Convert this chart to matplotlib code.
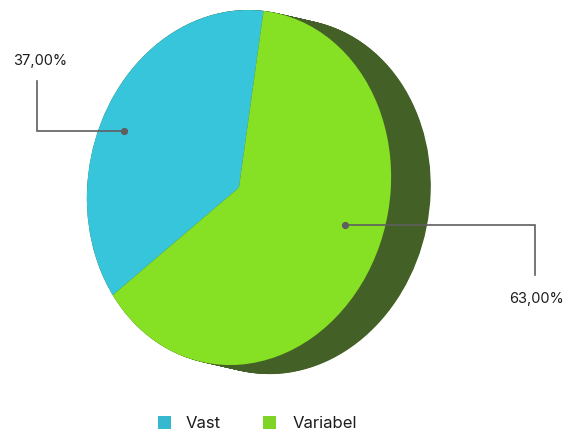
import matplotlib
matplotlib.use("Agg")
import matplotlib.pyplot as plt
import numpy as np
from matplotlib.patches import Ellipse, Rectangle
from matplotlib.transforms import Affine2D

plt.rcParams["font.family"] = ["Inter", "DejaVu Sans"]

labels = ["Vast", "Variabel"]
values = [37, 63]
value_labels = ["37,00%", "63,00%"]

CYAN = "#36c5da"
GREEN = "#86e024"
SIDE = "#436026"
LEADER = "#5f5f5f"
INK = "#1c1c1c"

W, H = 566, 431
fig = plt.figure(figsize=(W / 100, H / 100), dpi=100, facecolor="white")

# pie sits in an axes stretched to the ellipse box, so it comes out oval
left, right, top, bottom = 87, 391, 11, 366
ax = fig.add_axes([left / W, (H - bottom) / H, (right - left) / W, (bottom - top) / H])
ax.set_xlim(-1, 1)
ax.set_ylim(-1, 1)

# the oval in the reference leans a little, top to the right
lean = Affine2D(np.array([[1, 0.04, 0], [0.02, 1, 0], [0, 0, 1]])) + ax.transData

# fake 3D depth: sweep the same ellipse down and to the right
dx = 40 / ((right - left) / 2)
dy = 10 / ((bottom - top) / 2)
for t in np.linspace(0, 1, 60):
    ax.add_patch(Ellipse((t * dx, -t * dy), 2, 2, fc=SIDE, ec="none",
                         clip_on=False, zorder=1, transform=lean))

wedges, _ = ax.pie(values, colors=[CYAN, GREEN], startangle=83, counterclock=True, radius=1)
for w in wedges:
    w.set_zorder(2)
    w.set_clip_on(False)
    w.set_transform(lean)
ax.set_aspect("auto")
ax.set_xlim(-1, 1)
ax.set_ylim(-1, 1)
ax.axis("off")

# overlay in pixel coordinates for leaders, labels and legend
ov = fig.add_axes([0, 0, 1, 1], facecolor="none")
ov.set_xlim(0, W)
ov.set_ylim(H, 0)
ov.axis("off")

ov.plot([37, 37, 124], [82, 132, 132], color=LEADER, lw=1.2, solid_joinstyle="miter")
ov.plot([124], [132], "o", color=LEADER, ms=4.2)
ov.plot([345, 535, 535], [226, 226, 276], color=LEADER, lw=1.2, solid_joinstyle="miter")
ov.plot([345], [226], "o", color=LEADER, ms=4.2)

ov.text(13, 60.5, value_labels[0], fontsize=10.5, color=INK, ha="left", va="center")
ov.text(509, 299.5, value_labels[1], fontsize=10.5, color=INK, ha="left", va="center")

for x, tx, name, col in zip([158, 263], [186, 293], labels, ["#36b9cf", "#7fd426"]):
    ov.add_patch(Rectangle((x, 417), 13, 13, fc=col, ec="none"))
    ov.text(tx, 424, name, fontsize=12, color=INK, ha="left", va="center")

fig.savefig("out.png", dpi=100)
